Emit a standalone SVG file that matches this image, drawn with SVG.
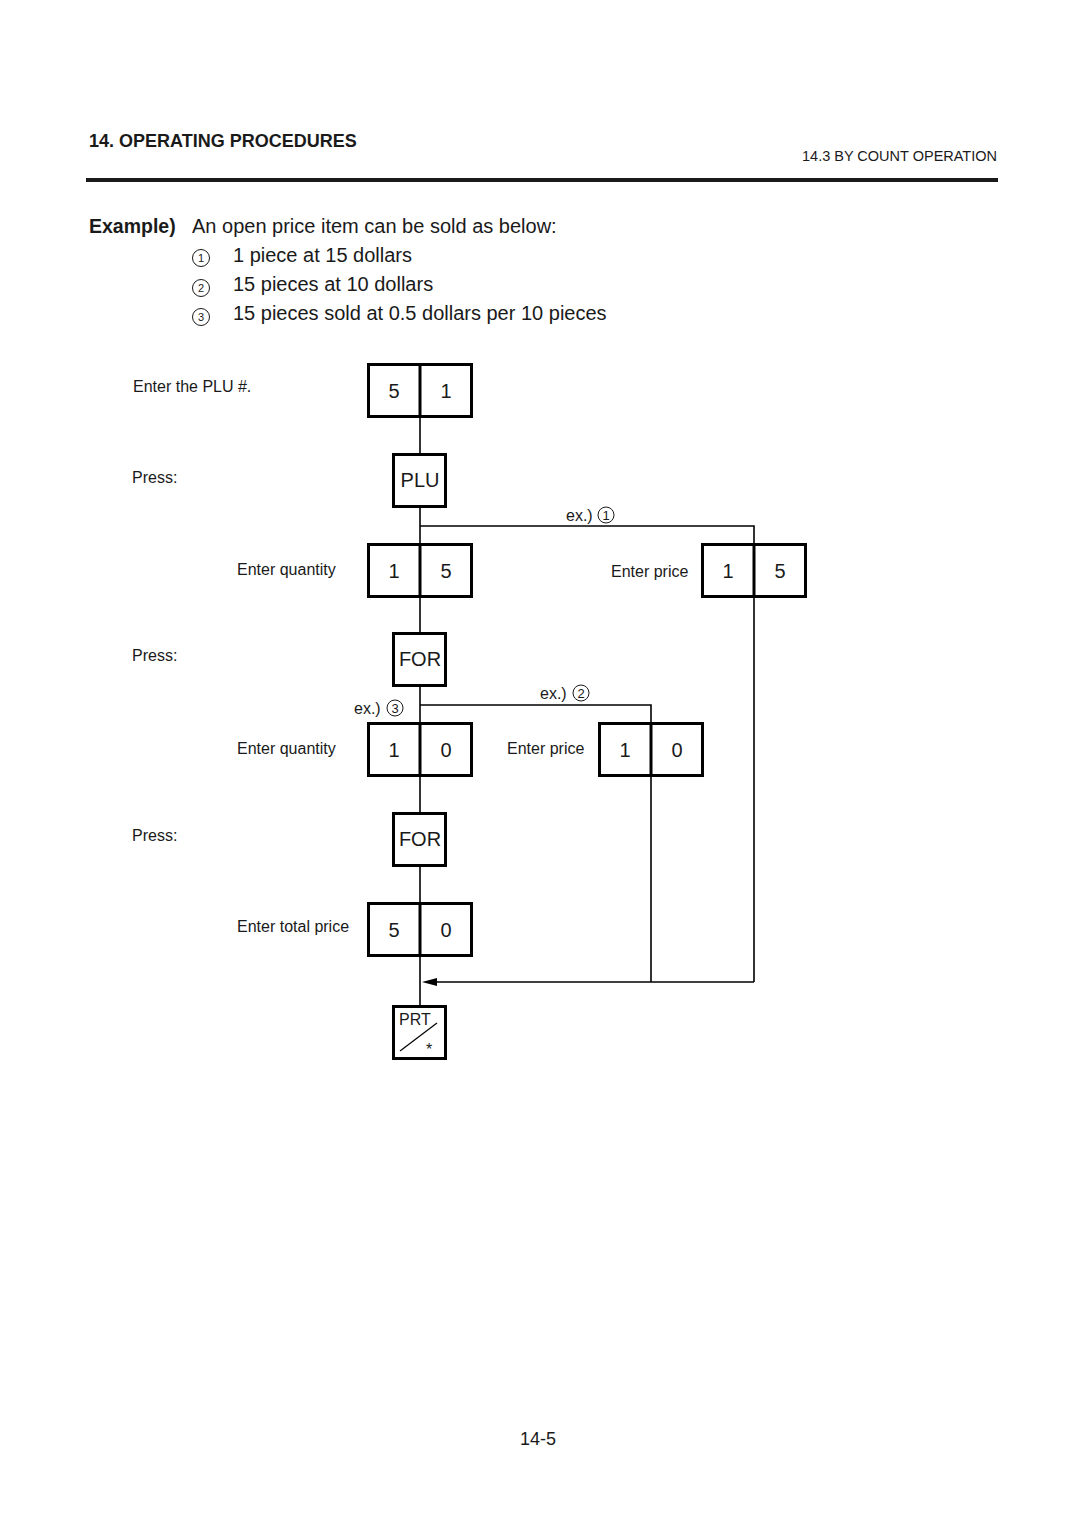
<svg xmlns="http://www.w3.org/2000/svg" width="1080" height="1525" viewBox="0 0 1080 1525">
<style>
text{font-family:"Liberation Sans",Arial,sans-serif;fill:#1a1a1a}
.lbl{font-size:16px}
.key{font-size:20px;text-anchor:middle}
.box{fill:#fff;stroke:#000;stroke-width:3}
.ln{fill:none;stroke:#000;stroke-width:1.6}
.cir{fill:none;stroke:#1a1a1a;stroke-width:1}
.cn{font-size:11px;text-anchor:middle}
.cn2{font-size:13px;text-anchor:middle}
.big{font-size:20px}
</style>
<rect width="1080" height="1525" fill="#fff"/>
<g id="header">
<text x="89" y="147" style="font-size:18px;font-weight:bold">14. OPERATING PROCEDURES</text>
<text x="997" y="161" style="font-size:14.5px;text-anchor:end">14.3 BY COUNT OPERATION</text>
<rect x="86" y="178" width="912" height="4" fill="#1a1a1a"/>
</g>
<g id="example">
<text x="89" y="233" style="font-size:19.5px;font-weight:bold">Example)</text>
<text class="big" x="192" y="233">An open price item can be sold as below:</text>
<circle class="cir" cx="201" cy="258" r="8.5"/><text class="cn" x="201" y="262">1</text>
<text class="big" x="233" y="262">1 piece at 15 dollars</text>
<circle class="cir" cx="201" cy="288" r="8.5"/><text class="cn" x="201" y="292">2</text>
<text class="big" x="233" y="291">15 pieces at 10 dollars</text>
<circle class="cir" cx="201" cy="317" r="8.5"/><text class="cn" x="201" y="321">3</text>
<text class="big" x="233" y="320">15 pieces sold at 0.5 dollars per 10 pieces</text>
</g>
<g id="labels">
<text class="lbl" x="133" y="392">Enter the PLU #.</text>
<text class="lbl" x="132" y="483">Press:</text>
<text class="lbl" x="237" y="575">Enter quantity</text>
<text class="lbl" x="132" y="661">Press:</text>
<text class="lbl" x="237" y="754">Enter quantity</text>
<text class="lbl" x="132" y="841">Press:</text>
<text class="lbl" x="237" y="932">Enter total price</text>
<text class="lbl" x="611" y="577">Enter price</text>
<text class="lbl" x="507" y="754">Enter price</text>
</g>
<g id="connectors">
<line class="ln" x1="420" y1="417" x2="420" y2="1006"/>
<polyline class="ln" points="420,526 754,526 754,982"/>
<polyline class="ln" points="420,705 651,705 651,982"/>
<line class="ln" x1="754" y1="982" x2="437" y2="982"/>
<path d="M422,982 L437,978 L437,986 Z" fill="#000"/>
<text class="lbl" x="566" y="521">ex.)</text>
<circle class="cir" cx="606" cy="515" r="8"/><text class="cn2" x="606" y="520">1</text>
<text class="lbl" x="540" y="699">ex.)</text>
<circle class="cir" cx="581" cy="693" r="8"/><text class="cn2" x="581" y="698">2</text>
<text class="lbl" x="354" y="714">ex.)</text>
<circle class="cir" cx="395" cy="708" r="8"/><text class="cn2" x="395" y="713">3</text>
</g>
<g id="key-51">
<rect class="box" x="368.5" y="364.5" width="103" height="52"/>
<line x1="420" y1="364" x2="420" y2="417" stroke="#000" stroke-width="3"/>
<text class="key" x="394" y="398">5</text><text class="key" x="446" y="398">1</text>
</g>
<g id="key-plu">
<rect class="box" x="393.5" y="454.5" width="52" height="52"/>
<text class="key" x="420" y="487">PLU</text>
</g>
<g id="key-qty15">
<rect class="box" x="368.5" y="544.5" width="103" height="52"/>
<line x1="420" y1="544" x2="420" y2="597" stroke="#000" stroke-width="3"/>
<text class="key" x="394" y="578">1</text><text class="key" x="446" y="578">5</text>
</g>
<g id="key-price15">
<rect class="box" x="702.5" y="544.5" width="103" height="52"/>
<line x1="754" y1="544" x2="754" y2="597" stroke="#000" stroke-width="3"/>
<text class="key" x="728" y="578">1</text><text class="key" x="780" y="578">5</text>
</g>
<g id="key-for1">
<rect class="box" x="393.5" y="633.5" width="52" height="52"/>
<text class="key" x="420" y="666">FOR</text>
</g>
<g id="key-qty10">
<rect class="box" x="368.5" y="723.5" width="103" height="52"/>
<line x1="420" y1="723" x2="420" y2="776" stroke="#000" stroke-width="3"/>
<text class="key" x="394" y="757">1</text><text class="key" x="446" y="757">0</text>
</g>
<g id="key-price10">
<rect class="box" x="599.5" y="723.5" width="103" height="52"/>
<line x1="651" y1="723" x2="651" y2="776" stroke="#000" stroke-width="3"/>
<text class="key" x="625" y="757">1</text><text class="key" x="677" y="757">0</text>
</g>
<g id="key-for2">
<rect class="box" x="393.5" y="813.5" width="52" height="52"/>
<text class="key" x="420" y="846">FOR</text>
</g>
<g id="key-total50">
<rect class="box" x="368.5" y="903.5" width="103" height="52"/>
<line x1="420" y1="903" x2="420" y2="956" stroke="#000" stroke-width="3"/>
<text class="key" x="394" y="937">5</text><text class="key" x="446" y="937">0</text>
</g>
<g id="key-prt">
<rect class="box" x="393.5" y="1006.5" width="52" height="52"/>
<text x="399" y="1025" style="font-size:16px">PRT</text>
<line x1="400" y1="1051" x2="437" y2="1023" stroke="#000" stroke-width="1.2"/>
<text x="429" y="1055" style="font-size:16px;text-anchor:middle">*</text>
</g>
<g id="footer">
<text x="538" y="1445" style="font-size:18px;text-anchor:middle">14-5</text>
</g>
</svg>
